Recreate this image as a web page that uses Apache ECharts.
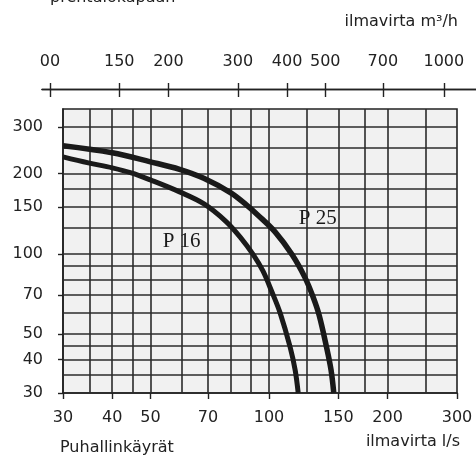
<!DOCTYPE html>
<html><head><meta charset="utf-8">
<script src="https://cdn.jsdelivr.net/npm/echarts@6/dist/echarts.min.js"></script>
<style>html,body{margin:0;padding:0;background:#fff}#c{width:476px;height:457px}</style>
</head><body><div id="c"></div>
<script>
// tick labels
const xTickLabels = [30, 40, 50, 70, 100, 150, 200, 300];          // l/s
const yTickLabels = [30, 40, 50, 70, 100, 150, 200, 300];          // Pa
const m3hTickLabels = [100, 150, 200, 300, 400, 500, 700, 1000];   // m3/h
// grid lines
const xGrid = [35, 40, 45, 50, 60, 70, 80, 90, 100, 125, 150, 175, 200, 250];
const yGrid = [35, 40, 45, 50, 60, 70, 80, 90, 100, 125, 150, 175, 200, 250, 300];
// curves (flow l/s, pressure Pa)
const p25X = [30, 40, 50, 59.3, 68.3, 80, 87.6, 93.6, 103.6, 114.5, 123.5, 129.1, 134.0, 139.9, 143.7, 146];
const p25Y = [254.5, 239.6, 221.6, 207.6, 192.1, 169.4, 152.7, 140.0, 120.9, 99.1, 81.2, 69.4, 58.9, 44.7, 36.6, 30];
const p16X = [30, 34.8, 40, 44.7, 50, 59.3, 68.4, 77.7, 84.4, 91.1, 96.5, 101.8, 106.7, 113.1, 116.5, 118.6];
const p16Y = [231.3, 219.6, 210.4, 201.5, 189.5, 170.9, 154.0, 132.5, 115.8, 99.5, 86.2, 71.7, 60.0, 44.7, 36.6, 30];
const curveNames = ['P 16', 'P 25'];
const curveLabelPos = [[60, 111], [133, 136]];

const FONT = 'DejaVu Sans';
const INK = '#222';
const lab = {fontFamily: FONT, fontSize: 16, color: INK};
const zip = (a, b) => a.map((v, i) => [v, b[i]]);

const chart = echarts.init(document.getElementById('c'), null, {renderer: 'canvas'});

function curve(name, xs, ys, pos, w) {
  return {
    name, type: 'line', xAxisIndex: 0, yAxisIndex: 0, z: 5,
    data: zip(xs, ys), showSymbol: false, symbol: 'none',
    smooth: 0.35,
    lineStyle: {color: '#1a1a1a', width: w, cap: 'butt', join: 'round'},
    markPoint: {
      silent: true, symbol: 'circle', symbolSize: 0,
      data: [{coord: pos, value: name}],
      label: {show: true, position: 'inside', formatter: name,
        fontFamily: 'Liberation Serif', fontSize: 21, color: '#1a1a1a'}
    }
  };
}

const option = {
  animation: false,
  backgroundColor: '#fff',
  grid: [
    {left: 63, right: 19, top: 109, bottom: 64, show: true, backgroundColor: '#f1f1f1',
     borderColor: INK, borderWidth: 1.6},
    {left: 42, right: 0, top: 88, height: 1}
  ],
  xAxis: [
    {gridIndex: 0, type: 'log', logBase: 10, min: 30, max: 300, position: 'bottom',
     axisLine: {show: true, lineStyle: {color: INK, width: 1.6}},
     axisTick: {show: true, length: 6, customValues: xTickLabels, lineStyle: {color: INK, width: 1.4}},
     axisLabel: Object.assign({customValues: xTickLabels, margin: 17}, lab),
     splitLine: {show: false}, minorTick: {show: false}, minorSplitLine: {show: false}},
    {gridIndex: 1, type: 'log', logBase: 10, min: 95.5, max: 1207, position: 'top',
     axisLine: {show: true, lineStyle: {color: INK, width: 1.4}},
     axisTick: {show: true, length: 6, customValues: m3hTickLabels, lineStyle: {color: INK, width: 1.4}},
     axisLabel: Object.assign({customValues: m3hTickLabels, margin: 18,
       formatter: v => Math.round(v) === 100 ? '00' : String(Math.round(v))}, lab),
     splitLine: {show: false}},
    {gridIndex: 1, type: 'log', logBase: 10, min: 95.5, max: 1207, position: 'bottom',
     axisLine: {show: true, lineStyle: {color: INK, width: 1.4}},
     axisTick: {show: true, length: 8, customValues: m3hTickLabels, lineStyle: {color: INK, width: 1.4}},
     axisLabel: {show: false}, splitLine: {show: false}}
  ],
  yAxis: [
    {gridIndex: 0, type: 'log', logBase: 10, min: 30, max: 350,
     axisLine: {show: true, lineStyle: {color: INK, width: 1.6}},
     axisTick: {show: true, length: 5, customValues: yTickLabels, lineStyle: {color: INK, width: 1.4}},
     axisLabel: Object.assign({customValues: yTickLabels, margin: 20}, lab),
     splitLine: {show: false}, minorTick: {show: false}},
    {gridIndex: 1, type: 'value', show: false}
  ],
  graphic: [
    {type: 'text', left: 50, top: -10, style: {text: 'prentaiokapaan', font: '16px "DejaVu Sans"', fill: INK}},
    {type: 'text', right: 18, top: 14, style: {text: 'ilmavirta m³/h', font: '16px "DejaVu Sans"', fill: INK}},
    {type: 'text', left: 60, top: 440, style: {text: 'Puhallinkäyrät', font: '16px "DejaVu Sans"', fill: INK}},
    {type: 'text', right: 16, top: 434, style: {text: 'ilmavirta l/s', font: '16px "DejaVu Sans"', fill: INK}}
  ],
  series: [
    {name: 'grid', type: 'line', xAxisIndex: 0, yAxisIndex: 0, data: [], z: 1, silent: true,
     markLine: {silent: true, symbol: ['none', 'none'], label: {show: false},
       lineStyle: {color: '#2b2b2b', width: 1.6, type: 'solid'},
       data: xGrid.map(v => ({xAxis: v})).concat(yGrid.map(v => ({yAxis: v})))}},
    curve(curveNames[0], p16X, p16Y, curveLabelPos[0], 5),
    curve(curveNames[1], p25X, p25Y, curveLabelPos[1], 5.5)
  ]
};
chart.setOption(option);
</script>
</body></html>
